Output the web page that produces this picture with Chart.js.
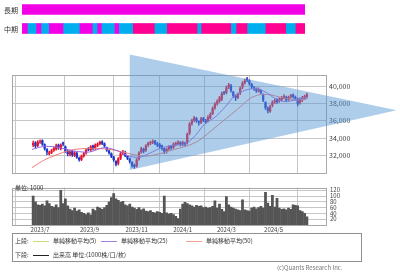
<!DOCTYPE html>
<html>
<head>
<meta charset="utf-8">
<script src="https://cdn.jsdelivr.net/npm/chart.js@4"></script>
<style>
body{margin:0;width:400px;height:273px;position:relative;background:#fff;overflow:hidden;font-family:"Noto Sans CJK JP",sans-serif;color:#333}
canvas{position:absolute;left:0}
#trend{top:0}
#price{top:45px}
#vol{top:180px}
.t{position:absolute;white-space:nowrap;font-size:6px;line-height:7px}
.ln{position:absolute;height:1px}
#legend{position:absolute;left:12px;top:233px;width:348px;height:27px;border:1px solid #909090}
</style>
</head>
<body>
<canvas id="trend" width="400" height="38"></canvas>
<canvas id="price" width="400" height="135"></canvas>
<canvas id="vol" width="400" height="55"></canvas>
<div id="rows"></div>
<div class="t" style="left:15px;top:184px;font-size:6px">単位: 1000</div>
<div id="legend"></div>
<div class="t" style="left:277px;top:264px;color:#777">(c)Quants Research Inc.</div>
<script>
const FONT = "'Noto Sans CJK JP', sans-serif";

// trend strips
const trendRows = ['長期', '中期'];
const longSeg = [283];
const longCol = ['#f200e6'];
const midSeg = [5.3, 8.7, 5, 7.7, 14.3, 16.3, 13, 4.7, 4.3, 13, 4.4, 14, 21.6, 12.4, 30.3, 4, 29.7, 5.3, 11, 18.3, 20.4, 9.6, 9.7];
const midCol = ['#f200e6', '#00aeef', '#f200e6', '#00aeef', '#f200e6', '#00aeef', '#f200e6', '#00aeef', '#f200e6', '#00aeef', '#f200e6', '#00aeef',
    '#ff0090', '#00aeef', '#ff0090', '#00aeef', '#ff0090', '#00aeef', '#ff0090', '#00aeef', '#ff0090', '#00aeef', '#ff0090'];

// price data, one candle per two trading days
const opens = [33200, 33450, 33150, 33550, 33700, 33250, 32700, 32200, 32350, 32600,
    32750, 33200, 32800, 33450, 33000, 32450, 32150, 32450, 32000, 32250,
    31700, 31550, 31950, 32300, 32750, 32650, 33100, 32850, 33150, 33350,
    33550, 33350, 32900, 32500, 32200, 31800, 31300, 31100, 31700, 32300,
    32300, 31900, 31600, 31200, 30900, 30800, 31600, 32400, 32700, 32600,
    33200, 33450, 33500, 33650, 33350, 33250, 33100, 32750, 32450, 32750,
    33050, 32950, 33250, 33400, 33450, 33250, 33400, 33500, 34600, 35700,
    36100, 36250, 35900, 35800, 36250, 36000, 36000, 36350, 36800, 37500,
    38000, 38250, 38500, 39300, 39250, 39900, 40000, 39300, 38800, 38700,
    39200, 39900, 40400, 40800, 40600, 40200, 39800, 39600, 39400, 39500,
    39000, 38100, 37400, 37100, 37800, 38200, 38400, 38300, 38400, 38650,
    38700, 38500, 38800, 38950, 38700, 38500, 38100, 38400, 38600, 38800];
const closes = [33400, 33100, 33500, 33600, 33300, 32800, 32400, 32300, 32500, 32800,
    33100, 32900, 33200, 33300, 32500, 32200, 32400, 32100, 32300, 31800,
    31500, 31900, 32200, 32600, 32700, 33000, 32800, 33200, 33300, 33500,
    33400, 33100, 32600, 32300, 31900, 31500, 31000, 31600, 32200, 32400,
    32000, 31700, 31300, 30800, 30700, 31500, 32300, 32800, 32500, 33100,
    33400, 33500, 33600, 33400, 33200, 33000, 32800, 32500, 32700, 33000,
    32900, 33300, 33400, 33500, 33300, 33500, 33300, 34400, 35600, 36000,
    36300, 36000, 35800, 36200, 36100, 35900, 36400, 36700, 37400, 37900,
    38200, 38600, 39100, 39200, 39800, 40100, 39500, 38900, 38700, 39000,
    39700, 40300, 40600, 40700, 40300, 39900, 39700, 39500, 39600, 39300,
    38400, 37500, 37200, 37600, 38100, 38300, 38200, 38500, 38600, 38800,
    38400, 38700, 38900, 38800, 38600, 38000, 38500, 38600, 38800, 39000];
const highs = [33650, 33600, 33700, 33800, 33800, 33350, 32800, 32500, 32700, 32950,
    33300, 33300, 33350, 33550, 33100, 32600, 32550, 32550, 32450, 32350,
    31800, 32050, 32350, 32750, 32900, 33150, 33200, 33350, 33450, 33650,
    33700, 33450, 32950, 32600, 32300, 31900, 31400, 31750, 32350, 32600,
    32500, 32000, 31700, 31300, 31000, 31650, 32450, 32950, 32850, 33250,
    33550, 33650, 33800, 33750, 33500, 33400, 33200, 32850, 32850, 33150,
    33150, 33450, 33550, 33700, 33600, 33650, 33550, 34600, 35800, 36200,
    36500, 36400, 36000, 36400, 36400, 36150, 36600, 36900, 37600, 38100,
    38400, 38800, 39300, 39400, 40000, 40300, 40200, 39400, 38950, 39150,
    39900, 40500, 40800, 41000, 40700, 40300, 39950, 39800, 39800, 39600,
    39100, 38200, 37600, 37800, 38300, 38500, 38550, 38650, 38800, 39000,
    38850, 38850, 39050, 39100, 38850, 38600, 38650, 38800, 38950, 39200];
const lows = [33000, 32900, 33000, 33400, 33150, 32600, 32100, 32050, 32200, 32450,
    32600, 32700, 32650, 33100, 32350, 31950, 31950, 31900, 31850, 31650,
    31350, 31400, 31800, 32150, 32550, 32500, 32650, 32700, 33000, 33200,
    33250, 32950, 32450, 32150, 31750, 31300, 30800, 30900, 31500, 32100,
    31850, 31500, 31100, 30650, 30500, 30650, 31450, 32250, 32300, 32450,
    33050, 33250, 33350, 33250, 33000, 32850, 32600, 32200, 32250, 32600,
    32700, 32800, 33100, 33250, 33100, 33100, 33100, 33300, 34400, 35500,
    35900, 35800, 35500, 35650, 35900, 35700, 35850, 36200, 36700, 37300,
    37800, 38100, 38300, 39000, 39100, 39700, 39300, 38700, 38300, 38550,
    39000, 39700, 40200, 40500, 40100, 39700, 39500, 39250, 39300, 39100,
    38200, 37300, 36900, 36950, 37600, 38000, 38000, 38100, 38250, 38500,
    38200, 38300, 38600, 38600, 38400, 37700, 37900, 38200, 38450, 38600];
const volumes = [100, 80, 70, 68, 72, 66, 83, 74, 64, 62,
    70, 60, 120, 74, 90, 66, 55, 50, 58, 48,
    52, 44, 40, 36, 42, 35, 55, 50, 62, 58,
    54, 60, 68, 80, 95, 108, 90, 85, 78, 82,
    70, 66, 72, 62, 58, 54, 60, 52, 56, 48,
    46, 50, 44, 42, 46, 44, 40, 100, 42, 38,
    40, 36, 30, 22, 55, 72, 78, 74, 70, 66,
    62, 68, 64, 66, 60, 62, 58, 60, 64, 83,
    58, 72, 54, 46, 98, 70, 62, 58, 55, 52,
    50, 87, 52, 50, 48, 58, 62, 56, 60, 64,
    58, 113, 76, 64, 102, 62, 92, 58, 54, 56,
    52, 58, 54, 70, 68, 66, 50, 46, 40, 28];

// moving averages (x = trading day index)
const ma25Day = [0, 11, 24, 37, 50, 63, 75, 85, 94, 103, 111, 124, 133, 142, 150, 159, 168, 177, 185, 194, 203, 211, 220, 229, 239];
const ma25 = [32700, 33050, 32900, 32500, 32400, 32900, 32500, 31900, 31800, 32300, 32800, 33200, 33300, 34300, 35600, 36400, 37600, 39000, 39500, 39700, 39300, 38600, 38200, 38400, 38700];
const ma50Day = [0, 11, 20, 33, 46, 59, 72, 85, 98, 111, 124, 137, 146, 159, 172, 181, 190, 198, 207, 216, 229, 239];
const ma50 = [30600, 31500, 32000, 32600, 32800, 32800, 32600, 32200, 31900, 32200, 32700, 33200, 33800, 35200, 36600, 37600, 38600, 39000, 39000, 38700, 38400, 38500];

// triangle (trading day index, price)
const triDay = [85, 317, 85];
const triPrice = [43630, 37220, 30330];

const monthDay = [7, 50, 91, 131, 169, 210];
const monthLabels = ['2023/7', '2023/9', '2023/11', '2024/1', '2024/3', '2024/5'];
const priceTicks = [32000, 34000, 36000, 38000, 40000];
const volTicks = [20, 40, 60, 80, 100, 120];

const legendItems = [
    {row: '上段:', color: '#c8dc78', text: '単純移動平均(5)', x: 20},
    {color: '#a080e0', text: '単純移動平均(25)', x: 88},
    {color: '#f4a090', text: '単純移動平均(50)', x: 173},
    {row: '下段:', color: '#222', text: '出来高 単位:(1000株/口/枚)', x: 20}
];

const X_MIN = -17.4, X_MAX = 255.6;
const GRID = '#c6c6c6';
const candleDay = closes.map((_, i) => 2 * i + 1);
const candleCol = closes.map((c, i) => c >= opens[i] ? '#e8102a' : '#1c36c8');

const frame = {
    id: 'frame',
    afterDatasetsDraw(chart) {
        const a = chart.chartArea, ctx = chart.ctx;
        ctx.save();
        ctx.strokeStyle = '#a8a8a8';
        ctx.lineWidth = 1;
        ctx.strokeRect(Math.round(a.left) + 0.5, Math.round(a.top) + 0.5, Math.round(a.right - a.left), Math.round(a.bottom - a.top));
        ctx.restore();
    }
};

const triangle = {
    id: 'triangle',
    afterDraw(chart) {
        const xs = chart.scales.x, ys = chart.scales.y, ctx = chart.ctx;
        ctx.save();
        ctx.beginPath();
        triDay.forEach((d, i) => {
            const px = xs.getPixelForValue(d), py = ys.getPixelForValue(triPrice[i]);
            if (i === 0) ctx.moveTo(px, py); else ctx.lineTo(px, py);
        });
        ctx.closePath();
        ctx.fillStyle = 'rgba(86, 150, 212, 0.48)';
        ctx.fill();
        ctx.restore();
    }
};

// top strips
let pos = 0;
const midSets = midSeg.map((w, i) => {
    const d = {type: 'bar', data: [null, [pos, pos + w]], backgroundColor: midCol[i], grouped: false, barThickness: 10};
    pos += w;
    return d;
});
const trendChart = new Chart(document.getElementById('trend'), {
    type: 'bar',
    data: {
        labels: trendRows,
        datasets: [{data: [[0, longSeg[0]], null], backgroundColor: longCol[0], grouped: false, barThickness: 10}].concat(midSets)
    },
    options: {
        indexAxis: 'y',
        responsive: false,
        animation: false,
        plugins: {legend: {display: false}, tooltip: {enabled: false}},
        layout: {padding: {left: 22, right: 95, top: 0, bottom: 0}},
        scales: {
            x: {type: 'linear', min: 0, max: 283, display: false},
            y: {display: false}
        }
    }
});
// row names placed at the category centres of the strip chart
const ys = trendChart.scales.y;
document.getElementById('rows').innerHTML = trendRows.map((r, i) =>
    '<div class="t" style="left:4px;font-size:7px;line-height:8px;top:' + (ys.getPixelForValue(i) - 4) + 'px">' + r + '</div>').join('');

function xAxis(showLabels) {
    return {
        type: 'linear', min: X_MIN, max: X_MAX, offset: false,
        afterBuildTicks: s => { s.ticks = monthDay.map(v => ({value: v})); },
        grid: {color: GRID, drawTicks: false},
        border: {display: false},
        ticks: {
            display: showLabels, padding: 1, color: '#444', maxRotation: 0, autoSkip: false,
            font: {family: FONT, size: 6},
            callback: v => monthLabels[monthDay.indexOf(v)]
        },
        afterFit: s => { s.height = showLabels ? 10 : 0; }
    };
}

new Chart(document.getElementById('price'), {
    data: {
        datasets: [
            {type: 'line', data: ma25Day.map((d, i) => ({x: d, y: ma25[i]})), borderColor: '#9a66e0', borderWidth: 1, pointRadius: 0, tension: 0.3},
            {type: 'line', data: ma50Day.map((d, i) => ({x: d, y: ma50[i]})), borderColor: '#f07a70', borderWidth: 1, pointRadius: 0, tension: 0.3},
            {type: 'bar', data: candleDay.map((d, i) => ({x: d, y: [opens[i], closes[i]]})), backgroundColor: candleCol, barThickness: 1.6, grouped: false},
            {type: 'bar', data: candleDay.map((d, i) => ({x: d, y: [lows[i], highs[i]]})), backgroundColor: candleCol, barThickness: 0.8, grouped: false}
        ]
    },
    options: {
        responsive: false,
        animation: false,
        plugins: {legend: {display: false}, tooltip: {enabled: false}},
        layout: {padding: {left: 12, top: 30, right: 0, bottom: 3}},
        scales: {
            x: xAxis(false),
            y: {
                position: 'right', min: 30000, max: 41270,
                afterBuildTicks: s => { s.ticks = priceTicks.map(v => ({value: v})); },
                grid: {color: GRID, drawTicks: false},
                border: {display: false},
                ticks: {padding: 3, autoSkip: false, color: '#444', font: {family: FONT, size: 7}, callback: v => v.toLocaleString('en-US')},
                afterFit: s => { s.width = 74; }
            }
        }
    },
    plugins: [frame, triangle]
});

new Chart(document.getElementById('vol'), {
    data: {
        datasets: [
            {type: 'bar', data: candleDay.map((d, i) => ({x: d, y: volumes[i]})), backgroundColor: '#555555', barThickness: 2.1}
        ]
    },
    options: {
        responsive: false,
        animation: false,
        plugins: {legend: {display: false}, tooltip: {enabled: false}},
        layout: {padding: {left: 12, top: 3, right: 0, bottom: 0}},
        scales: {
            x: xAxis(true),
            y: {
                position: 'right', min: 0, max: 129,
                afterBuildTicks: s => { s.ticks = volTicks.map(v => ({value: v})); },
                grid: {color: GRID, drawTicks: false},
                border: {display: false},
                ticks: {padding: 4, autoSkip: false, color: '#444', font: {family: FONT, size: 6}},
                afterFit: s => { s.width = 74; }
            }
        }
    },
    plugins: [frame]
});

// legend box
const lg = document.getElementById('legend');
let rowTop = 3;
legendItems.forEach((it, k) => {
    if (it.row) {
        if (k > 0) rowTop = 17;
        lg.insertAdjacentHTML('beforeend', '<div class="t" style="left:2px;top:' + rowTop + 'px">' + it.row + '</div>');
    }
    lg.insertAdjacentHTML('beforeend',
        '<div class="ln" style="left:' + it.x + 'px;top:' + (rowTop + 4) + 'px;width:16px;background:' + it.color + '"></div>' +
        '<div class="t" style="left:' + (it.x + 20) + 'px;top:' + rowTop + 'px">' + it.text + '</div>');
});
</script>
</body>
</html>
